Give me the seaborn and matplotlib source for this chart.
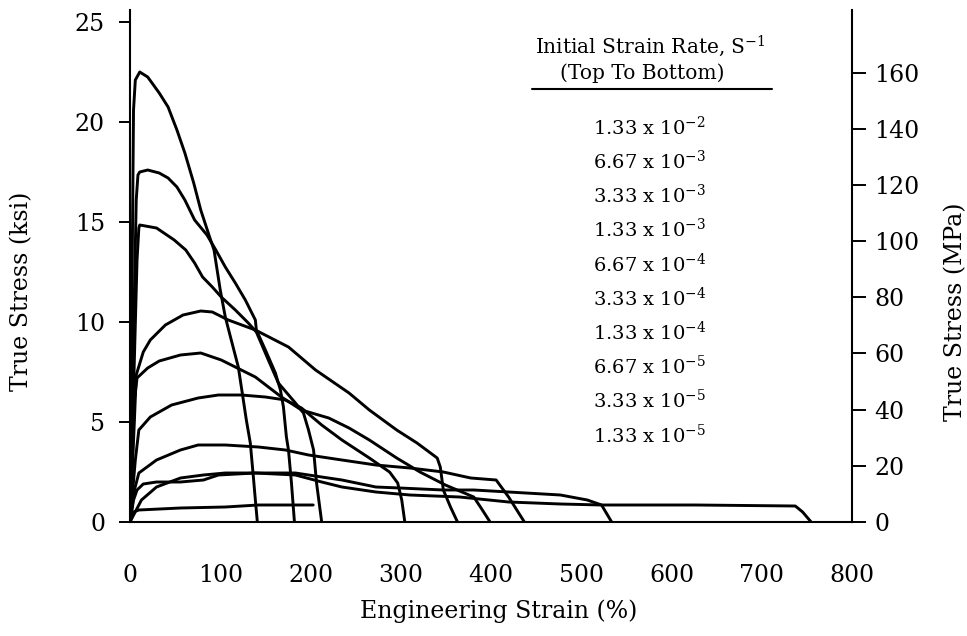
import numpy as np
import pandas as pd
import matplotlib
matplotlib.use("Agg")
import matplotlib.pyplot as plt
import seaborn as sns

# ---------------- data (strain %, true stress ksi) ----------------
rate_labels = [r"1.33 x 10$^{-2}$", r"6.67 x 10$^{-3}$", r"3.33 x 10$^{-3}$",
               r"1.33 x 10$^{-3}$", r"6.67 x 10$^{-4}$", r"3.33 x 10$^{-4}$",
               r"1.33 x 10$^{-4}$", r"6.67 x 10$^{-5}$", r"3.33 x 10$^{-5}$",
               r"1.33 x 10$^{-5}$"]

strain_1 = [0, 3.9, 5.9, 10.8, 19.6, 32.4, 42.2, 52, 60.8, 70.6, 78.4, 88.2, 93.1,
            100, 105.6, 112.2, 120, 124.4, 128.9, 133.3, 136.7, 138.9, 141.1]
stress_1 = [0, 20.6, 22.1, 22.5, 22.25, 21.45, 20.75, 19.6, 18.45, 16.95, 15.6, 14.25, 13.6,
            11.6, 10.25, 9.1, 7.75, 6.45, 5.1, 3.95, 2.25, 1.1, 0]

strain_2 = [0, 6.9, 8.8, 10.8, 19.6, 32.4, 42.2, 52, 60.8, 71.6, 85.3, 95.1, 105.6,
            116.7, 127.8, 138.9, 140, 150, 161.1, 166.7, 170, 173.3, 175.6, 178.9, 182.2]
stress_2 = [0, 16.1, 17.35, 17.5, 17.6, 17.45, 17.2, 16.75, 16.1, 15.1, 14.35, 13.6, 12.75,
            11.95, 11.1, 10.1, 9.6, 8.6, 7.45, 6.6, 5.75, 4.25, 3.6, 1.95, 0]

strain_3 = [0, 7.8, 9.8, 10.8, 29.4, 49, 61.8, 71.6, 80.4, 91.2, 101.1, 116.7, 131.1,
            140, 153.3, 164.4, 183.3, 192.2, 197.8, 203.4, 206.7, 212.4]
stress_3 = [0, 13.1, 14.7, 14.85, 14.7, 14.1, 13.6, 12.95, 12.25, 11.75, 11.25, 10.6, 9.95,
            9.5, 8.1, 6.95, 5.95, 5.45, 4.6, 3.6, 1.95, 0]

strain_4 = [0, 4.9, 6.9, 14.7, 22.5, 39.2, 58.8, 78.4, 91.2, 108.9, 138.9, 175.6, 205.6,
            242.7, 265.2, 295.5, 318, 340.4, 343.8, 347.2, 355.1, 362.9]
stress_4 = [0, 5.1, 7.35, 8.5, 9.1, 9.85, 10.35, 10.55, 10.5, 10.1, 9.6, 8.75, 7.6,
            6.45, 5.6, 4.6, 3.95, 3.2, 2.75, 1.6, 0.75, 0]

strain_5 = [0, 4.9, 7.8, 19.6, 32.4, 55.9, 78.4, 101.1, 123.3, 138.9, 167.8, 190, 220.2,
            242.7, 265.2, 295.5, 321.3, 349.4, 380.9, 389, 399]
stress_5 = [0, 6.1, 7.2, 7.7, 8.05, 8.35, 8.45, 8.1, 7.6, 7.25, 6.25, 5.6, 5.2,
            4.7, 4.1, 3.2, 2.5, 1.85, 1.25, 0.7, 0]

strain_6 = [0, 5.9, 9.8, 22.5, 46.1, 75.5, 98, 123.3, 150, 172.2, 190, 212.4, 234.8,
            265.2, 287.6, 296.6, 301.1, 304.5]
stress_6 = [0, 3.1, 4.6, 5.25, 5.85, 6.2, 6.35, 6.35, 6.25, 6.1, 5.7, 4.85, 4.1,
            3.2, 2.5, 1.95, 1.1, 0]

strain_7 = [0, 4.9, 9.8, 29.4, 55.9, 75.5, 105.6, 142.2, 172.2, 197.8, 234.8, 272.4,
            310.1, 347.2, 377.5, 405.7, 419.5, 437]
stress_7 = [0, 1.6, 2.45, 3.1, 3.6, 3.85, 3.85, 3.75, 3.6, 3.35, 3.1, 2.85,
            2.7, 2.5, 2.2, 2.1, 1.25, 0]

strain_8 = [0, 3.9, 7.8, 14.7, 29.4, 55.9, 81.4, 98, 138.9, 183.3, 212.4, 234.8, 272.4,
            298.9, 347.2, 380.9, 419.5, 476.9, 506.7, 522.5, 533.7]
stress_8 = [0, 1.1, 1.6, 1.9, 2.0, 2.0, 2.1, 2.35, 2.45, 2.45, 2.25, 2.1, 1.75,
            1.7, 1.6, 1.6, 1.5, 1.35, 1.1, 0.85, 0]

strain_9 = [0, 6.9, 12.7, 29.4, 55.9, 81.4, 105.6, 138.9, 183.3, 212.4, 234.8, 272.4,
            310.1, 365.2, 419.5, 477, 522.5, 626.7, 737.2, 745.3, 754.7]
stress_9 = [0, 0.6, 1.1, 1.75, 2.2, 2.35, 2.45, 2.45, 2.35, 2.0, 1.75, 1.5,
            1.35, 1.25, 1.0, 0.9, 0.85, 0.85, 0.8, 0.5, 0]

strain_10 = [0, 3.9, 9.8, 55.9, 105.6, 142.2, 203]
stress_10 = [0, 0.5, 0.6, 0.7, 0.75, 0.85, 0.85]

x_ticks = [0, 100, 200, 300, 400, 500, 600, 700, 800]
y_ticks_ksi = [0, 5, 10, 15, 20, 25]
y_ticks_mpa = [0, 20, 40, 60, 80, 100, 120, 140, 160]

strains = [strain_1, strain_2, strain_3, strain_4, strain_5,
           strain_6, strain_7, strain_8, strain_9, strain_10]
stresses = [stress_1, stress_2, stress_3, stress_4, stress_5,
            stress_6, stress_7, stress_8, stress_9, stress_10]

frames = []
for i, (s, t) in enumerate(zip(strains, stresses)):
    frames.append(pd.DataFrame({"strain": s, "stress": t, "curve": i,
                                "order": range(len(s))}))
df = pd.concat(frames, ignore_index=True)

# ---------------- style ----------------
sns.set_theme(style="white")
plt.rcParams["font.family"] = ["DejaVu Serif"]
plt.rcParams["mathtext.fontset"] = "dejavuserif"
plt.rcParams["text.color"] = "black"
plt.rcParams["axes.labelcolor"] = "black"

W, H = 967, 636
fig = plt.figure(figsize=(W / 100, H / 100), dpi=100)
ax_l, ax_r, ax_b, ax_t = 130, 852, 522, 10
ax = fig.add_axes([ax_l / W, (H - ax_b) / H, (ax_r - ax_l) / W, (ax_b - ax_t) / H])

sns.lineplot(data=df, x="strain", y="stress", units="curve", estimator=None,
             sort=False, color="black", linewidth=2.1, ax=ax, legend=False)

ymax = 25.6
ax.set_xlim(0, 800)
ax.set_ylim(0, ymax)
ax.set_xticks(x_ticks)
ax.set_yticks(y_ticks_ksi)
ax.tick_params(axis="x", direction="out", length=12, width=1.4, pad=18,
               labelsize=17, colors="black")
ax.tick_params(axis="y", direction="out", length=8, width=1.4, pad=10,
               labelsize=17, colors="black")
for sp in ["left", "bottom"]:
    ax.spines[sp].set_color("black")
    ax.spines[sp].set_linewidth(1.5)
ax.spines["top"].set_visible(False)
ax.spines["right"].set_visible(False)

ax.set_xlabel("")
ax.set_ylabel("")
ax.text(0.51, -0.175, "Engineering Strain (%)", transform=ax.transAxes,
        ha="center", va="center", fontsize=17, color="black")
ax.text(-0.150, 0.45, "True Stress (ksi)", transform=ax.transAxes,
        ha="center", va="center", fontsize=17, rotation=90, color="black")

# right axis (MPa)
ax2 = ax.twinx()
mpa_per_ksi = 7.12
ax2.set_ylim(0, ymax * mpa_per_ksi)
ax2.set_yticks(y_ticks_mpa)
ax2.tick_params(axis="y", direction="out", length=10, width=1.4, pad=6,
                labelsize=17, colors="black")
for sp in ["left", "bottom", "top"]:
    ax2.spines[sp].set_visible(False)
ax2.spines["right"].set_color("black")
ax2.spines["right"].set_linewidth(1.5)
ax2.text(1.143, 0.41, "True Stress (MPa)", transform=ax.transAxes,
         ha="center", va="center", fontsize=17, rotation=90, color="black")

# legend block
def fx(px):
    return (px - ax_l) / (ax_r - ax_l)

def fy(py):
    return (ax_b - py) / (ax_b - ax_t)

ax.text(fx(650), fy(46), r"Initial Strain Rate, S$^{-1}$", transform=ax.transAxes,
        ha="center", va="center", fontsize=14.5, color="black")
ax.text(fx(642), fy(73), "(Top To Bottom)", transform=ax.transAxes,
        ha="center", va="center", fontsize=14.5, color="black")
ax.plot([fx(532), fx(772)], [fy(89), fy(89)], transform=ax.transAxes,
        color="black", linewidth=1.5, clip_on=False)
for k, lab in enumerate(rate_labels):
    ax.text(fx(593), fy(127 + 34.2 * k), lab, transform=ax.transAxes,
            ha="left", va="center", fontsize=14, color="black")

fig.savefig("out.png", dpi=100)
